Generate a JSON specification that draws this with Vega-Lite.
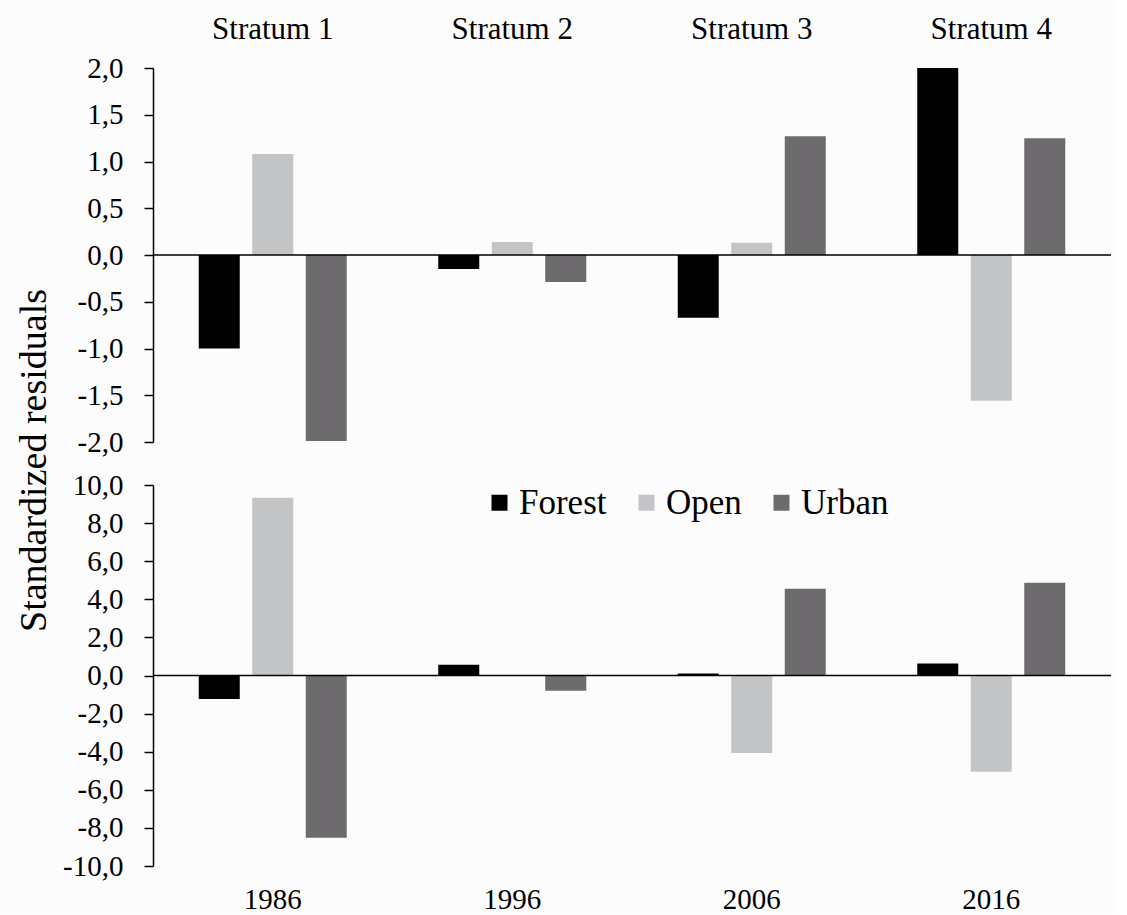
{
  "$schema": "https://vega.github.io/schema/vega-lite/v6.json",
  "background": "#fcfcfd",
  "padding": {"left": 15, "top": 13, "right": 5, "bottom": 0},
  "bounds": "flush",
  "spacing": 43,
  "config": {
    "font": "Liberation Serif",
    "view": {"stroke": null},
    "axis": {
      "labelFont": "Liberation Serif",
      "titleFont": "Liberation Serif",
      "labelColor": "#000000",
      "titleColor": "#000000",
      "grid": false,
      "domainColor": "#000000",
      "tickColor": "#000000",
      "labelOverlap": false
    },
    "legend": {
      "labelFont": "Liberation Serif",
      "titleFont": "Liberation Serif"
    }
  },
  "datasets": {
    "strata": [
      {"stratum": "Stratum 1", "cover": "Forest", "value": -1.0},
      {"stratum": "Stratum 1", "cover": "Open", "value": 1.08},
      {"stratum": "Stratum 1", "cover": "Urban", "value": -1.99},
      {"stratum": "Stratum 2", "cover": "Forest", "value": -0.15},
      {"stratum": "Stratum 2", "cover": "Open", "value": 0.14},
      {"stratum": "Stratum 2", "cover": "Urban", "value": -0.29},
      {"stratum": "Stratum 3", "cover": "Forest", "value": -0.67},
      {"stratum": "Stratum 3", "cover": "Open", "value": 0.13},
      {"stratum": "Stratum 3", "cover": "Urban", "value": 1.27},
      {"stratum": "Stratum 4", "cover": "Forest", "value": 2.0},
      {"stratum": "Stratum 4", "cover": "Open", "value": -1.56},
      {"stratum": "Stratum 4", "cover": "Urban", "value": 1.25}
    ],
    "years": [
      {"year": "1986", "cover": "Forest", "value": -1.24},
      {"year": "1986", "cover": "Open", "value": 9.33},
      {"year": "1986", "cover": "Urban", "value": -8.52},
      {"year": "1996", "cover": "Forest", "value": 0.56},
      {"year": "1996", "cover": "Open", "value": -0.03},
      {"year": "1996", "cover": "Urban", "value": -0.8},
      {"year": "2006", "cover": "Forest", "value": 0.1},
      {"year": "2006", "cover": "Open", "value": -4.07},
      {"year": "2006", "cover": "Urban", "value": 4.56},
      {"year": "2016", "cover": "Forest", "value": 0.63},
      {"year": "2016", "cover": "Open", "value": -5.05},
      {"year": "2016", "cover": "Urban", "value": 4.87}
    ]
  },
  "resolve": {"scale": {"color": "shared"}, "legend": {"color": "independent"}},
  "vconcat": [
    {
      "width": 958,
      "height": 374,
      "layer": [
        {
          "data": {"name": "strata"},
          "mark": {"type": "bar"},
          "encoding": {
            "x": {
              "field": "stratum",
              "type": "nominal",
              "scale": {"paddingInner": 0.382, "paddingOuter": 0.191},
              "axis": {
                "orient": "top",
                "title": null,
                "domain": false,
                "ticks": false,
                "labelAngle": 0,
                "labelFont": "Liberation Serif",
                "labelFontSize": 31,
                "labelPadding": 23
              }
            },
            "xOffset": {
              "field": "cover",
              "type": "nominal",
              "scale": {"paddingInner": 0.2336, "paddingOuter": 0}
            },
            "y": {
              "field": "value",
              "type": "quantitative",
              "scale": {"domain": [-2, 2], "nice": false},
              "axis": {
                "values": [-2, -1.5, -1, -0.5, 0, 0.5, 1, 1.5, 2],
                "tickCount": 20,
                "labelExpr": "replace(replace(format(datum.value, '.1f'), '.', ','), '\u2212', '-')",
                "labelFont": "Liberation Serif",
                "labelFontSize": 29,
                "labelPadding": 21,
                "tickSize": 9,
                "tickWidth": 1.5,
                "domainWidth": 1.5,
                "title": "Standardized residuals",
                "titleFont": "Liberation Serif",
                "titleFontSize": 38,
                "titleFontWeight": "normal",
                "titleAngle": 270,
                "titleAlign": "center",
                "titleBaseline": "alphabetic",
                "titleX": -108,
                "titleY": 392
              }
            },
            "color": {
              "field": "cover",
              "type": "nominal",
              "scale": {"domain": ["Forest", "Open", "Urban"], "range": ["#000000", "#c3c4c6", "#6e6b6e"]},
              "legend": null
            }
          }
        },
        {
          "data": {"values": [{"line": "zero"}]},
          "mark": {"type": "rule", "color": "#000000", "strokeWidth": 1.5},
          "encoding": {"y": {"datum": 0}}
        }
      ]
    },
    {
      "width": 958,
      "height": 381,
      "layer": [
        {
          "data": {"name": "years"},
          "mark": {"type": "bar"},
          "encoding": {
            "x": {
              "field": "year",
              "type": "nominal",
              "scale": {"paddingInner": 0.382, "paddingOuter": 0.191},
              "axis": {
                "orient": "bottom",
                "title": null,
                "domain": false,
                "ticks": false,
                "labelAngle": 0,
                "labelFont": "Liberation Serif",
                "labelFontSize": 29,
                "labelPadding": 19
              }
            },
            "xOffset": {
              "field": "cover",
              "type": "nominal",
              "scale": {"paddingInner": 0.2336, "paddingOuter": 0}
            },
            "y": {
              "field": "value",
              "type": "quantitative",
              "scale": {"domain": [-10, 10], "nice": false},
              "axis": {
                "values": [-10, -8, -6, -4, -2, 0, 2, 4, 6, 8, 10],
                "tickCount": 20,
                "labelExpr": "replace(replace(format(datum.value, '.1f'), '.', ','), '\u2212', '-')",
                "labelFont": "Liberation Serif",
                "labelFontSize": 29,
                "labelPadding": 21,
                "tickSize": 9,
                "tickWidth": 1.5,
                "domainWidth": 1.5,
                "title": null
              }
            },
            "color": {
              "field": "cover",
              "type": "nominal",
              "scale": {"domain": ["Forest", "Open", "Urban"], "range": ["#000000", "#c3c4c6", "#6e6b6e"]},
              "legend": {
                "orient": "none",
                "legendX": 329,
                "legendY": 0,
                "direction": "horizontal",
                "title": null,
                "padding": 0,
                "symbolType": "square",
                "symbolSize": 256,
                "symbolStrokeWidth": 0,
                "symbolOpacity": 1,
                "labelFont": "Liberation Serif",
                "labelFontSize": 35,
                "labelColor": "#000000",
                "labelOffset": 2,
                "columnPadding": 22
              }
            }
          }
        },
        {
          "data": {"values": [{"line": "zero"}]},
          "mark": {"type": "rule", "color": "#000000", "strokeWidth": 1.5},
          "encoding": {"y": {"datum": 0}}
        }
      ]
    }
  ]
}
